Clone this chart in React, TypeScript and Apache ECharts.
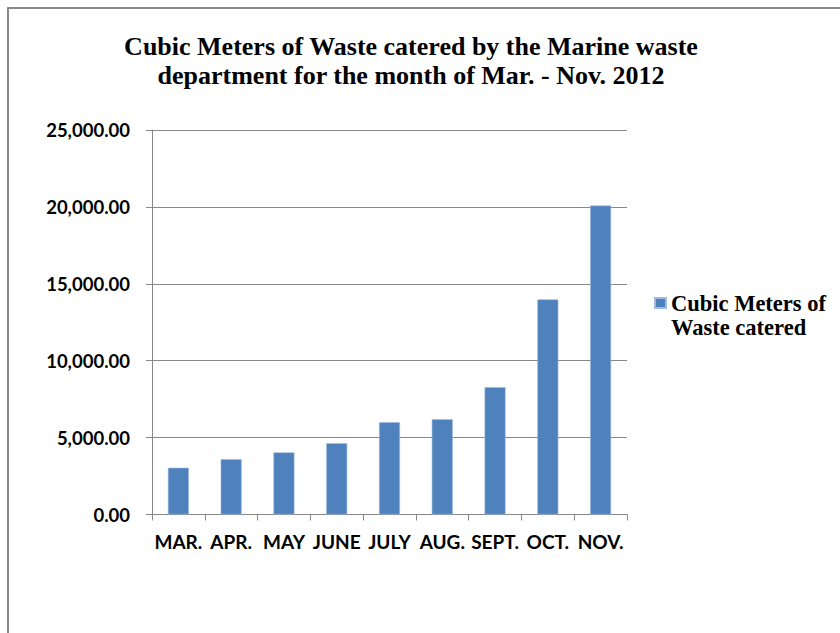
import React, { useEffect, useRef } from "react";
import * as echarts from "echarts";

const categories = ["MAR.", "APR.", "MAY", "JUNE", "JULY", "AUG.", "SEPT.", "OCT.", "NOV."];
const wasteValues = [3040, 3600, 4040, 4630, 6000, 6190, 8280, 13990, 20090];
const seriesName = "Cubic Meters of Waste catered";
const legendLines = ["Cubic Meters of", "Waste catered"];
const titleText = "Cubic Meters of Waste catered by the Marine waste\ndepartment for the month of Mar. - Nov. 2012";
const yMin = 0;
const yMax = 25000;
const yStep = 5000;

const fmt = (v: number) =>
  v.toLocaleString("en-US", { minimumFractionDigits: 2, maximumFractionDigits: 2 });

export default function App() {
  const ref = useRef<HTMLDivElement>(null);
  useEffect(() => {
    if (!ref.current) return;
    const chart = echarts.init(ref.current, null, { renderer: "svg" });
    const gray = "#888888";
    chart.setOption({
      animation: false,
      backgroundColor: "#ffffff",
      title: {
        text: titleText,
        left: 411,
        top: 32,
        padding: 0,
        textAlign: "center",
        textStyle: {
          fontFamily: "'Liberation Serif', serif",
          fontWeight: "bold",
          fontSize: 26,
          lineHeight: 29,
          color: "#000000",
        },
      },
      legend: {
        left: 654,
        top: 267,
        padding: 0,
        itemWidth: 11,
        itemHeight: 10,
        icon: "rect",
        formatter: () => " \n" + legendLines.join("\n"),
        textStyle: {
          fontFamily: "'Liberation Serif', serif",
          fontWeight: "bold",
          fontSize: 22.5,
          lineHeight: 24,
          color: "#000000",
        },
        data: [seriesName],
      },
      grid: { left: 152, right: 213, top: 130, bottom: 118.5, containLabel: false },
      xAxis: {
        type: "category",
        data: categories,
        boundaryGap: true,
        axisLine: { show: true, lineStyle: { color: gray, width: 1 } },
        axisTick: { show: true, length: 6, alignWithLabel: false, lineStyle: { color: gray } },
        axisLabel: {
          interval: 0,
          margin: 17,
          fontFamily: "Lato, sans-serif",
          fontWeight: "bold",
          fontSize: 19,
          color: "#000000",
        },
        splitLine: { show: false },
      },
      yAxis: {
        type: "value",
        min: yMin,
        max: yMax,
        interval: yStep,
        axisLine: { show: true, lineStyle: { color: gray, width: 1 } },
        axisTick: { show: true, length: 6, lineStyle: { color: gray } },
        axisLabel: {
          margin: 22,
          formatter: (v: number) => fmt(v),
          fontFamily: "Lato, sans-serif",
          fontWeight: "bold",
          fontSize: 18.5,
          color: "#000000",
        },
        splitLine: { show: true, lineStyle: { color: gray, width: 1 } },
      },
      series: [
        {
          name: seriesName,
          type: "bar",
          data: wasteValues,
          barWidth: 21,
          itemStyle: { color: "#4f81bd", borderColor: "#9fbbe0", borderWidth: 0.6 },
        },
      ],
      graphic: [
        {
          type: "line",
          shape: { x1: 7, y1: 8, x2: 840, y2: 8 },
          style: { stroke: "#8a8a8a", lineWidth: 2 },
          silent: true,
        },
        {
          type: "line",
          shape: { x1: 8, y1: 7, x2: 8, y2: 633 },
          style: { stroke: "#8a8a8a", lineWidth: 2 },
          silent: true,
        },
      ],
    });
    return () => chart.dispose();
  }, []);
  return (
    <div
      ref={ref}
      style={{ position: "absolute", left: 0, top: 0, width: 840, height: 633 }}
    />
  );
}
